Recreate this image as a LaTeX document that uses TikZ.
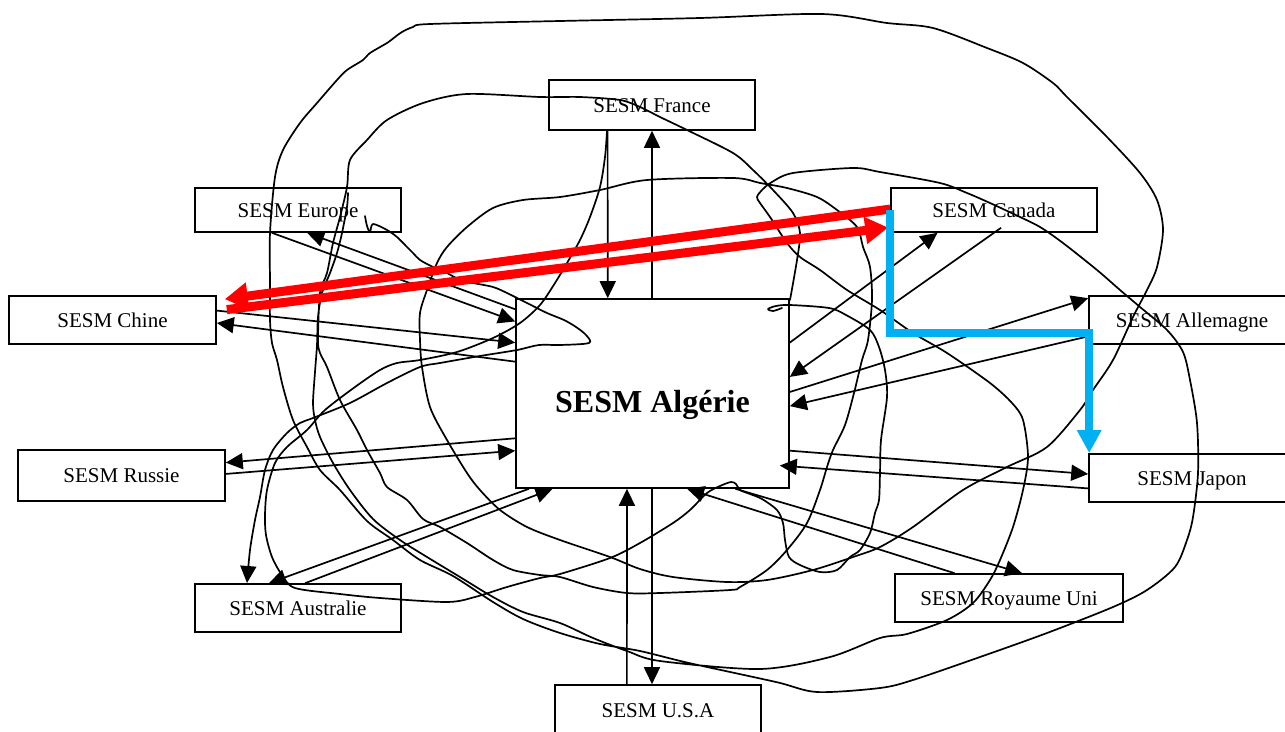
\documentclass[tikz,border=0pt]{standalone}
\usepackage{fontspec}
\setmainfont{Liberation Serif}
\usetikzlibrary{arrows.meta,calc}
\begin{document}
\begin{tikzpicture}[x=1pt,y=-1pt,
  box/.style={draw, line width=1.6pt, inner sep=0pt, font=\fontsize{21}{25}\selectfont, text height=14pt, text depth=0pt},
  lnk/.style={line width=1.7pt, -{Triangle[length=17pt,width=16pt]}},
  scrib/.style={line width=1.7pt, line join=round, line cap=round},
  redarr/.style={draw={rgb,255:red,255;green,0;blue,0}, line width=9pt, -{Triangle[length=23pt,width=26pt]}},
  bluearr/.style={draw={rgb,255:red,0;green,176;blue,240}, line width=7.5pt, line join=miter, -{Triangle[length=23pt,width=23pt]}}]
\useasboundingbox (0,0) rectangle (1285,731);

% boxes
\node[box, minimum width=206pt, minimum height=50pt] (France) at (652,105) {SESM France};
\node[box, minimum width=206pt, minimum height=44pt] (Europe) at (298,210) {SESM Europe};
\node[box, minimum width=206pt, minimum height=44pt] (Canada) at (994,210) {SESM Canada};
\node[box, minimum width=207pt, minimum height=48pt] (Chine) at (112.5,320) {SESM Chine};
\node[box, minimum width=206pt, minimum height=48pt] (Allem) at (1192,320) {SESM Allemagne};
\node[box, minimum width=273pt, minimum height=189pt] (Alg) at (652.5,393.5) {};
\node[inner sep=0pt, anchor=base, font=\bfseries\fontsize{32}{38}\selectfont] (AlgT) at (652.5,412) {SESM Algérie};
\node[box, minimum width=207pt, minimum height=51pt] (Russie) at (121.5,475.5) {SESM Russie};
\node[box, minimum width=206pt, minimum height=48pt] (Japon) at (1192,478) {SESM Japon};
\node[box, minimum width=206pt, minimum height=48pt] (Australie) at (298,608) {SESM Australie};
\node[box, minimum width=228pt, minimum height=48pt] (RU) at (1009,598) {SESM Royaume Uni};
\node[box, minimum width=206pt, minimum height=50pt] (USA) at (658,710) {SESM U.S.A};

% scribbles
\draw[scrib] plot[smooth, tension=0.5] coordinates {
 (348,193) (347,207) (342,233) (337,253) (330,273) (322,293) (318,317) (317,345) (315,372) (313,403) (315,420) (320,437) (333,463) (350,490) (373,519) (400,540) (427,557) (460,577) (493,597) (523,612) (560,623) (593,638) (627,651) (660,661) (760,669) (830,657) (880,638)
 (907,634) (947,620) (973,603) (990,580) (1000,560) (1013,527) (1023,490) (1028,457) (1023,420) (1012,403) (990,383) (947,353) (913,333) (880,310) (847,290) (820,270) (800,257) (787,243) (770,217) (760,203) (757,197) (762,190) (772,182) (793,173) (853,168) (880,172) (940,183) (967,193) (990,203) (1020,217) (1040,227) (1063,243) (1097,270) (1120,290) (1140,307) (1167,330) (1183,352) (1190,380) (1197,423) (1198,473) (1193,517) (1187,540) (1175,567) (1147,590) (1113,607) (1047,633) (980,657) (913,680) (880,688) (817,692) (776,682) (689,663) (640,651) (600,644) (560,633) (523,619) (493,602) (453,576) (420,560) (393,540) (367,521) (340,490) (320,470) (307,447) (293,420) (283,387) (277,360) (272,343) (270,320) (270,283) (270,233) (275,177) (283,150) (300,123) (317,103) (337,80) (347,70) (363,60) (370,53) (387,43) (395,37) (402,32) (413,27) (430,24) (560,21) (700,18) (822,14) (887,23) (933,28) (987,48) (1023,63) (1053,83) (1067,97) (1107,137) (1140,173) (1157,200) (1163,230) (1157,267) (1147,290) (1133,317) (1113,360) (1093,390) (1080,410) (1047,447) (1007,467) (963,490) (913,527) (880,547) (853,557) (813,570) (767,580) (727,582) (673,577) (640,569) (610,557) (560,540) (527,527) (500,510) (480,490) (467,473) (447,440) (430,407) (422,367) (420,340) (420,313) (427,290) (437,263) (447,247) (467,227) (493,208) (523,200) (560,197) (600,190) (647,180) (733,178) (760,183) (787,188) (817,197) (837,210) (857,227) (863,247) (870,267) (872,300) (868,340) (862,360) (854,393) (845,425) (833,450) (827,467) (820,490) (807,523) (787,550) (767,570) (740,587) (730,590) (660,593) (627,593) (593,587) (560,577) (540,575) (513,570) (493,560) (467,543) (440,527) (423,519) (407,500) (387,487) (380,473) (367,450) (357,430) (340,400) (327,367) (320,353) (318,340) (320,293) (327,273) (333,243) (340,217) (347,187) (350,160) (367,140) (387,120) (423,103) (467,94) (540,97) (580,97) (620,100) (640,107) (660,117) (687,130) (733,153) (753,170) (773,190) (793,213) (800,233) (797,260) (790,300)};

\draw[scrib] plot[smooth, tension=0.5] coordinates {
 (607,131) (605,157) (600,187) (590,217) (580,240) (567,263) (555,283) (540,305) (520,323) (493,338) (457,352) (420,360) (397,363) (380,370) (355,387) (325,410) (307,430) (287,447) (275,463) (267,490) (265,515) (266,535) (272,557) (282,575) (295,588) (340,594) (380,598) (447,602) (475,597) (507,587) (540,578) (560,574) (610,558) (640,543) (673,523) (690,510) (707,493) (720,486) (731,482) (736,484) (740,490) (750,494) (762,499) (777,510) (783,523) (785,540) (789,557) (800,565) (820,572) (837,570) (850,557) (860,550) (870,533) (875,513) (879,500) (880,473) (881,440) (887,397) (885,370) (879,347) (870,330) (846,315) (829,308) (790,305) (776,306) (768,309) (773,311) (782,308)};

\draw[scrib, -{Triangle[length=17pt,width=16pt]}] plot[smooth, tension=0.5] coordinates {
 (365,216) (367,226) (370,232) (373,224) (387,230) (397,237) (407,247) (413,253) (420,260) (433,267) (447,273) (460,280) (473,283) (493,287) (507,293) (527,303) (547,313) (564,320) (576,327) (586,335) (589,343) (560,345) (539,345) (517,350) (480,356) (440,363) (420,367) (387,383) (350,403) (313,418) (300,423) (287,433) (273,450) (265,470) (260,497) (255,520) (250,550) (247,583)};

% straight links
\draw[lnk] ($(France.south west)!0.286!(France.south east)$) -- ($(Alg.north west)!0.337!(Alg.north east)$);
\draw[lnk] ($(Alg.north west)!0.498!(Alg.north east)$) -- ($(France.south west)!0.5!(France.south east)$);
\draw[lnk] ($(Europe.south west)!0.374!(Europe.south east)$) -- ($(Alg.north west)!0.122!(Alg.south west)$);
\draw[lnk] ($(Alg.north west)!0.058!(Alg.south west)$) -- ($(Europe.south west)!0.544!(Europe.south east)$);
\draw[lnk] ($(Chine.north east)!0.31!(Chine.south east)$) -- ($(Alg.north west)!0.233!(Alg.south west)$);
\draw[lnk] ($(Alg.north west)!0.333!(Alg.south west)$) -- ($(Chine.north east)!0.56!(Chine.south east)$);
\draw[lnk] ($(Alg.north west)!0.735!(Alg.south west)$) -- ($(Russie.north east)!0.255!(Russie.south east)$);
\draw[lnk] ($(Russie.north east)!0.47!(Russie.south east)$) -- ($(Alg.north west)!0.80!(Alg.south west)$);
\draw[lnk] ($(Alg.south west)!0.05!(Alg.south east)$) -- ($(Australie.north west)!0.36!(Australie.north east)$);
\draw[lnk] ($(Australie.north west)!0.534!(Australie.north east)$) -- ($(Alg.south west)!0.136!(Alg.south east)$);
\draw[lnk] ($(USA.north west)!0.35!(USA.north east)$) -- ($(Alg.south west)!0.407!(Alg.south east)$);
\draw[lnk] ($(Alg.south west)!0.498!(Alg.south east)$) -- ($(USA.north west)!0.471!(USA.north east)$);
\draw[lnk] ($(RU.north west)!0.263!(RU.north east)$) -- ($(Alg.south west)!0.626!(Alg.south east)$);
\draw[lnk] ($(Alg.south west)!0.802!(Alg.south east)$) -- ($(RU.north west)!0.557!(RU.north east)$);
\draw[lnk] ($(Alg.north east)!0.80!(Alg.south east)$) -- ($(Japon.north west)!0.42!(Japon.south west)$);
\draw[lnk] ($(Japon.north west)!0.71!(Japon.south west)$) -- ($(Alg.north east)!0.878!(Alg.south east)+(-10,0)$);
\draw[lnk] ($(Alg.north east)!0.492!(Alg.south east)$) -- ($(Allem.north west)!0.06!(Allem.south west)$);
\draw[lnk] ($(Allem.north west)!0.83!(Allem.south west)$) -- ($(Alg.north east)!0.566!(Alg.south east)$);
\draw[lnk] ($(Alg.north east)!0.233!(Alg.south east)$) -- ($(Canada.south west)!0.228!(Canada.south east)$);
\draw[lnk] ($(Canada.south west)!0.534!(Canada.south east)+(0,-5)$) -- ($(Alg.north east)!0.413!(Alg.south east)$);

% red links
\draw[redarr] ($(Canada.north west)!0.48!(Canada.south west)$) -- ($(Chine.north east)!0.08!(Chine.south east)+(8,0)$);
\draw[redarr] ($(Chine.north east)!0.29!(Chine.south east)+(10,0)$) -- ($(Canada.north west)!0.886!(Canada.south west)+(-2,0)$);

% blue link
\coordinate (bstart) at ($(Canada.north west)!0.5!(Canada.south west)$);
\coordinate (bbend) at ($(bstart)+(0,123)$);
\draw[bluearr] (bstart) -- (bbend) -| ($(Japon.north west)+(1,0)$);
\end{tikzpicture}
\end{document}
